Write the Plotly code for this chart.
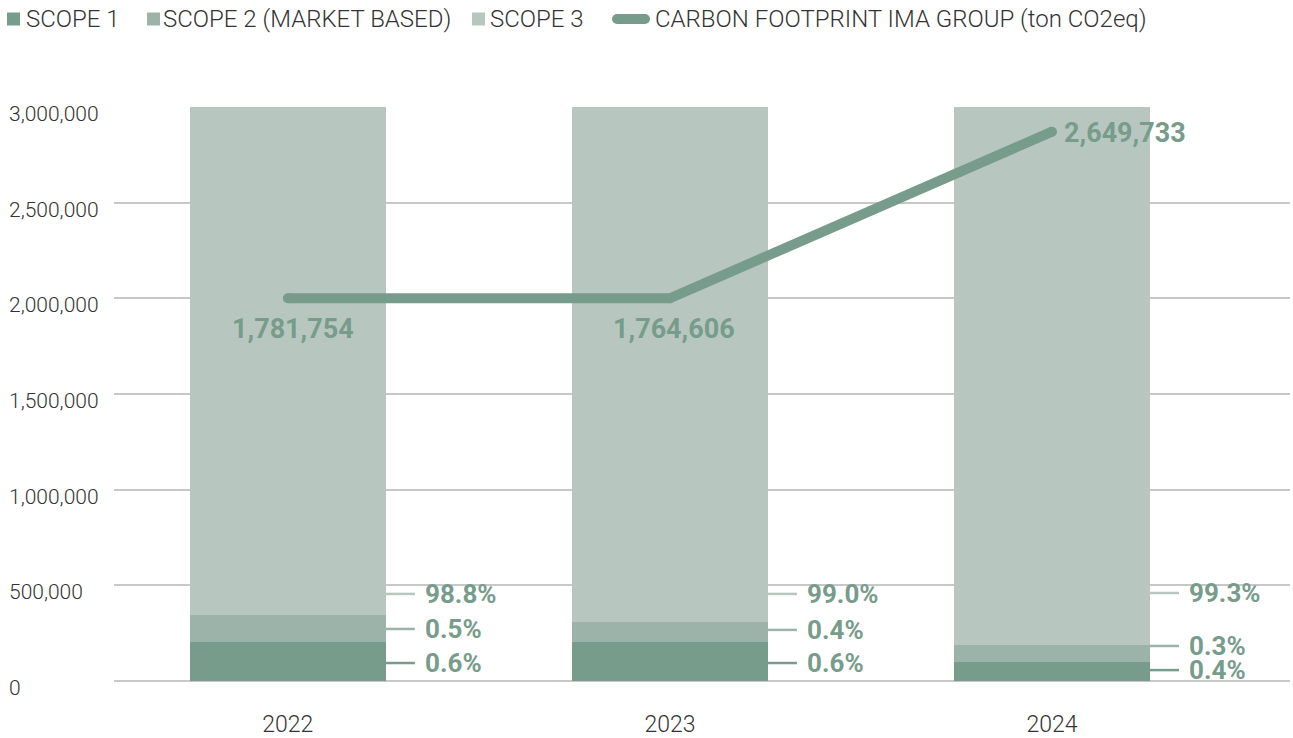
import plotly.graph_objects as go

years = ["2022", "2023", "2024"]
scope1 = [204000, 205000, 99000]
scope2 = [141000, 103000, 89000]
scope3 = [2655000, 2692000, 2812000]
footprint_line = [2000000, 2000000, 2871000]
footprint_labels = ["1,781,754", "1,764,606", "2,649,733"]
pct_scope1 = ["0.6%", "0.6%", "0.4%"]
pct_scope2 = ["0.5%", "0.4%", "0.3%"]
pct_scope3 = ["98.8%", "99.0%", "99.3%"]
ytick_vals = [0, 500000, 1000000, 1500000, 2000000, 2500000, 3000000]
ytick_text = ["0", "500,000", "1,000,000", "1,500,000", "2,000,000", "2,500,000", "3,000,000"]
legend_names = ["SCOPE 1", "SCOPE 2 (MARKET BASED)", "SCOPE 3", "CARBON FOOTPRINT IMA GROUP (ton CO2eq)"]

# label placement (layout, not data)
lab_y_s1 = [94000, 94000, 57000]
lab_y_s2 = [272000, 267000, 183000]
lab_y_s3 = [455000, 455000, 460000]

C1 = "#789c8c"
C2 = "#9cb3a9"
C3 = "#b7c7bf"
TXT = "#333333"
FONT = "Roboto"

W, H = 1293, 738
# plot area in window pixels: x 114..1290, y 107..681
PX0, PX1, PY0, PY1 = 114, 1290, 107, 681
ML = PX0
MT = PY0
MR = W - PX1
MB = H - PY1
PW, PH = PX1 - PX0, PY1 - PY0


def px(xp):
    return (xp - PX0) / PW


def py(yp):
    return (PY1 - yp) / PH


fig = go.Figure()
BW = 0.513
fig.add_bar(x=years, y=scope1, name=legend_names[0], marker=dict(color=C1, line=dict(width=0)), width=BW)
fig.add_bar(x=years, y=scope2, name=legend_names[1], marker=dict(color=C2, line=dict(width=0)), width=BW)
fig.add_bar(x=years, y=scope3, name=legend_names[2], marker=dict(color=C3, line=dict(width=0)), width=BW)
fig.add_scatter(x=years, y=footprint_line, name=legend_names[3],
                mode="lines+markers", line=dict(color=C1, width=10),
                marker=dict(color=C1, size=10), cliponaxis=False)

annotations = []
shapes = []
half = BW / 2
lead = 29 / 382
gap = 40 / 382
for i in range(3):
    for ys, txt, col in ((lab_y_s3[i], pct_scope3[i], C3), (lab_y_s2[i], pct_scope2[i], C2), (lab_y_s1[i], pct_scope1[i], C1)):
        shapes.append(dict(type="line", xref="x", yref="y", x0=i + half, x1=i + half + lead,
                           y0=ys, y1=ys, line=dict(color=col, width=2.5)))
        annotations.append(dict(xref="x", yref="y", x=i + half + gap - 0.008, y=ys, text=txt, showarrow=False,
                                xanchor="left", yanchor="middle",
                                font=dict(family=FONT, size=26, color=C1, weight=700)))

# line value labels
annotations.append(dict(xref="x", yref="y", x=0, y=footprint_line[0], text=footprint_labels[0], showarrow=False,
                        xanchor="center", yanchor="middle", yshift=-31, xshift=5,
                        font=dict(family=FONT, size=27, color=C1, weight=700)))
annotations.append(dict(xref="x", yref="y", x=1, y=footprint_line[1], text=footprint_labels[1], showarrow=False,
                        xanchor="center", yanchor="middle", yshift=-31, xshift=4,
                        font=dict(family=FONT, size=27, color=C1, weight=700)))
annotations.append(dict(xref="x", yref="y", x=2, y=footprint_line[2], text=footprint_labels[2], showarrow=False,
                        xanchor="left", yanchor="middle", xshift=10, yshift=-1,
                        font=dict(family=FONT, size=27, color=C1, weight=700)))

# y tick labels (left aligned)
for v, t in zip(ytick_vals, ytick_text):
    annotations.append(dict(xref="paper", yref="y", x=px(7), y=v, text=t, showarrow=False,
                            xanchor="left", yanchor="middle", yshift=-7,
                            font=dict(family=FONT, size=21, color=TXT, weight=300)))

# custom legend (matches the reference's compact layout)
sq = [(7, 20), (147, 160), (472, 485)]
sq_cols = [C1, C2, C3]
txt_x = [24, 161, 488, 653]
LY = 19
for (a, b), col in zip(sq, sq_cols):
    shapes.append(dict(type="rect", xref="paper", yref="paper", x0=px(a), x1=px(b),
                       y0=py(LY + 6.5), y1=py(LY - 6.5), fillcolor=col, line=dict(width=0)))
shapes.append(dict(type="line", xref="paper", yref="paper", x0=px(617), x1=px(645),
                   y0=py(LY), y1=py(LY), line=dict(color=C1, width=10)))
for cx in (617, 645):
    shapes.append(dict(type="circle", xref="paper", yref="paper", x0=px(cx - 5), x1=px(cx + 5),
                       y0=py(LY + 5), y1=py(LY - 5), fillcolor=C1, line=dict(width=0)))
for name, tx in zip(legend_names, txt_x):
    annotations.append(dict(xref="paper", yref="paper", x=px(tx), y=py(LY), text=name, showarrow=False,
                            xanchor="left", yanchor="middle",
                            font=dict(family=FONT, size=24, color=TXT, weight=300)))

fig.update_layout(
    width=W, height=H,
    margin=dict(l=ML, r=MR, t=MT, b=MB),
    barmode="stack",
    bargap=0,
    plot_bgcolor="white", paper_bgcolor="white",
    font=dict(family=FONT, color=TXT),
    showlegend=False,
    annotations=annotations,
    shapes=shapes,
)
fig.update_xaxes(type="category", range=[-0.455, 2.623], showgrid=False, showline=False, ticks="",
                 automargin=False,
                 tickfont=dict(family=FONT, size=23, color=TXT, weight=300), ticklabelstandoff=27)
fig.update_yaxes(range=[0, 3000000], tickvals=ytick_vals, showticklabels=False, showgrid=True,
                 automargin=False,
                 gridcolor="#c8c8c8", gridwidth=1.5, zeroline=True, zerolinecolor="#c8c8c8",
                 zerolinewidth=1.5, showline=False, ticks="")

fig.write_html("out.html", config={"displayModeBar": False},
               post_script="document.body.style.margin='0';")
